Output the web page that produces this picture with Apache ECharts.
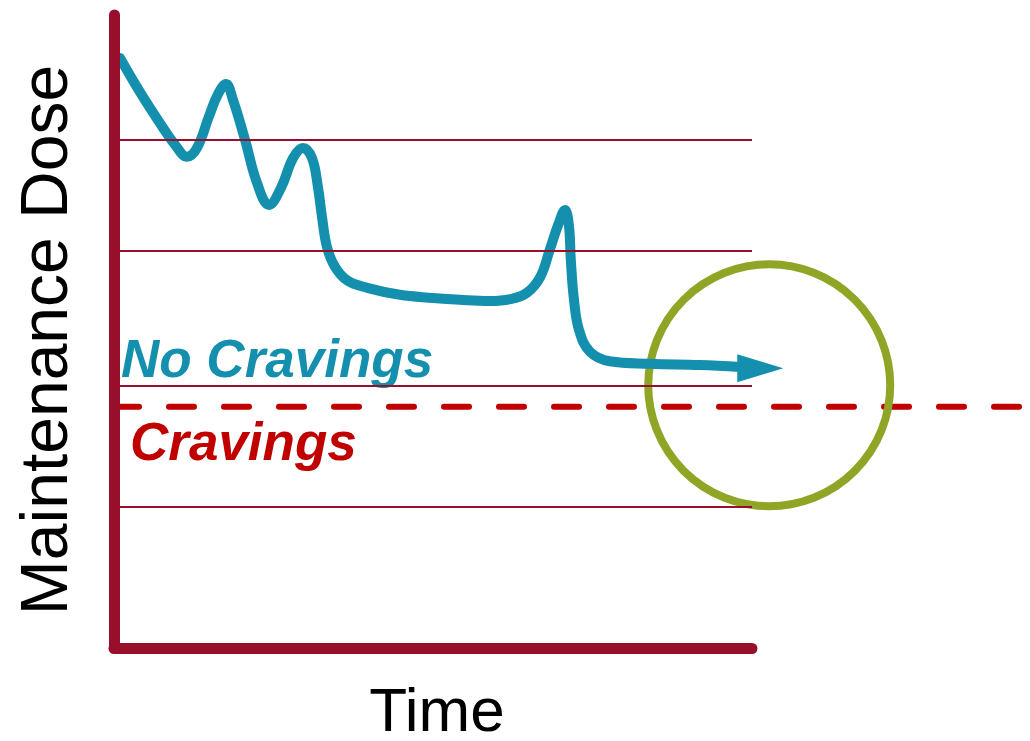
<!DOCTYPE html>
<html>
<head>
<meta charset="utf-8">
<title>Maintenance Dose over Time</title>
<script src="https://cdn.jsdelivr.net/npm/echarts@6/dist/echarts.min.js"></script>
<style>
  html, body { margin: 0; padding: 0; background: #ffffff; }
  #chart { width: 1030px; height: 741px; }
</style>
</head>
<body>
<div id="chart"></div>
<script>
// Dose trajectory over time (both axes on a 0–100 relative scale)
const doseTime = [0.94, 4.08, 7.21, 9.72, 11.44, 13.01, 14.89, 16.30, 17.55, 18.65, 20.53, 22.41,
  24.29, 26.18, 28.06, 29.62, 31.03, 31.97, 32.60, 33.39, 34.64, 36.52, 39.7, 44.8, 50.0, 54.2,
  58.9, 62.1, 64.7, 66.8, 68.3, 69.6, 70.7, 71.3, 71.6, 72.1, 72.9, 74.6, 77.7, 84.0, 91.8, 98.1];
const doseLevel = [93.2, 87.8, 82.9, 79.3, 77.6, 79.0, 84.0, 87.5, 89.1, 86.6, 80.3, 73.5,
  70.0, 72.7, 77.4, 79.0, 77.4, 72.8, 68.1, 63.3, 60.2, 58.1, 56.9, 55.8, 55.3, 55.0,
  54.8, 55.1, 56.1, 58.6, 62.9, 66.8, 69.2, 66.8, 61.3, 55.0, 50.2, 46.8, 45.3, 44.9, 44.7, 44.4];
// Where the trajectory's arrow points
const arrowTip = [104.9, 44.2];
// Horizontal reference levels
const referenceLevels = [80.3, 62.7, 41.5, 22.3];
// Craving threshold and its extent along the (extended) time axis
const cravingThreshold = 38.1;
const thresholdSpan = [0, 143.6];
// Target zone (stable dose just above the threshold)
const targetZone = [102.7, 41.5];

const axisColor = '#970F2B';
const curveColor = '#1490AE';
const thresholdColor = '#C00000';
const zoneColor = '#8EA525';
const fontFamily = "Arial, 'Liberation Sans', sans-serif";

const chart = echarts.init(document.getElementById('chart'), null, { renderer: 'canvas' });

const curveData = doseTime.map((t, i) => [t, doseLevel[i]]);

const hiddenAxisParts = {
  axisTick: { show: false }, axisLabel: { show: false }, splitLine: { show: false }
};

chart.setOption({
  animation: false,
  backgroundColor: '#ffffff',
  grid: [
    // main plotting area
    { left: 114, top: 15, width: 638, height: 633, containLabel: false },
    // same scale, stretched to the right edge for the threshold line
    { left: 114, top: 15, width: 916, height: 633, containLabel: false }
  ],
  xAxis: [
    Object.assign({
      type: 'value', min: 0, max: 100, z: 10, gridIndex: 0,
      axisLine: { show: true, onZero: false, lineStyle: { color: axisColor, width: 11, cap: 'round' } }
    }, hiddenAxisParts),
    Object.assign({
      type: 'value', min: 0, max: 143.6, gridIndex: 1,
      axisLine: { show: false }
    }, hiddenAxisParts)
  ],
  yAxis: [
    Object.assign({
      type: 'value', min: 0, max: 100, z: 10, gridIndex: 0,
      axisLine: { show: true, onZero: false, lineStyle: { color: axisColor, width: 11, cap: 'round' } }
    }, hiddenAxisParts),
    Object.assign({
      type: 'value', min: 0, max: 100, gridIndex: 1,
      axisLine: { show: false }
    }, hiddenAxisParts)
  ],
  series: [
    {
      name: 'levels', type: 'line', data: [], z: 1, silent: true,
      markLine: {
        silent: true, symbol: 'none', animation: false,
        label: { show: false },
        lineStyle: { color: axisColor, width: 2, type: 'solid' },
        data: referenceLevels.map(v => ({ yAxis: v }))
      }
    },
    {
      name: 'threshold', type: 'line', z: 2, silent: true,
      xAxisIndex: 1, yAxisIndex: 1,
      symbol: 'none',
      data: thresholdSpan.map(t => [t, cravingThreshold]),
      lineStyle: { color: thresholdColor, width: 6, type: [25, 30], cap: 'round' }
    },
    {
      name: 'zone', type: 'scatter', z: 3, clip: false, silent: true,
      data: [targetZone], symbol: 'circle', symbolSize: 242,
      itemStyle: { color: 'rgba(0,0,0,0)', borderColor: zoneColor, borderWidth: 8, opacity: 1 }
    },
    {
      name: 'dose', type: 'line', z: 4, clip: false, silent: true,
      data: curveData, smooth: 0.4, symbol: 'none',
      lineStyle: { color: curveColor, width: 10, cap: 'round', join: 'round' }
    },
    {
      name: 'arrow', type: 'scatter', z: 4, clip: false, silent: true,
      data: [arrowTip],
      symbol: 'path://M0,0L46,14L0,28Z', symbolSize: [46, 28], symbolKeepAspect: false,
      symbolOffset: [-23, 0],
      itemStyle: { color: curveColor, opacity: 1 }
    }
  ],
  graphic: [
    {
      type: 'text', x: 49, y: 340, rotation: Math.PI / 2,
      style: { text: 'Maintenance Dose', font: '66px ' + fontFamily, fill: '#000000',
               textAlign: 'center', textVerticalAlign: 'middle' }
    },
    {
      type: 'text', x: 437, y: 714,
      style: { text: 'Time', font: '62px ' + fontFamily, fill: '#000000',
               textAlign: 'center', textVerticalAlign: 'middle' }
    },
    {
      type: 'text', x: 121, y: 362,
      style: { text: 'No Cravings', font: 'italic bold 53px ' + fontFamily, fill: curveColor,
               textAlign: 'left', textVerticalAlign: 'middle' }
    },
    {
      type: 'text', x: 130, y: 445,
      style: { text: 'Cravings', font: 'italic bold 53px ' + fontFamily, fill: thresholdColor,
               textAlign: 'left', textVerticalAlign: 'middle' }
    }
  ]
});
</script>
</body>
</html>
